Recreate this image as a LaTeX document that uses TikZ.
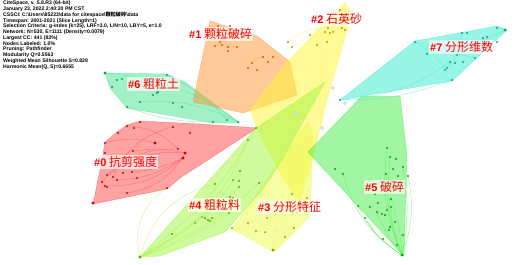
\documentclass[tikz,border=0pt]{standalone}
\usepackage{fontspec}
\usepackage{tikz}
\newfontfamily\hdrfont{Liberation Sans}
\newfontfamily\cjk{Noto Sans CJK SC}

\definecolor{cl0}{RGB}{255,70,70}
\definecolor{cl1}{RGB}{255,150,50}
\definecolor{cl2}{RGB}{255,245,50}
\definecolor{cl3}{RGB}{235,250,70}
\definecolor{cl4}{RGB}{160,245,60}
\definecolor{cl5}{RGB}{70,235,70}
\definecolor{cl6}{RGB}{70,225,140}
\definecolor{cl7}{RGB}{50,235,205}
\definecolor{dk0}{RGB}{200,0,0}
\definecolor{dk1}{RGB}{205,95,0}
\definecolor{dk2}{RGB}{175,155,0}
\definecolor{dk3}{RGB}{130,170,0}
\definecolor{dk4}{RGB}{70,175,0}
\definecolor{dk5}{RGB}{0,165,0}
\definecolor{dk6}{RGB}{0,165,80}
\definecolor{dk7}{RGB}{0,165,140}

\begin{document}
\begin{tikzpicture}[
    x = 1pt, y = -1pt,
    %
    hull/.style = {fill = #1, fill opacity = 0.5,
      draw = #1, draw opacity = 0.6, line width = 0.4pt},
    dot/.style = {circle, fill = #1, inner sep = 0pt,
      minimum size = 2.2pt},
    bigdot/.style = {dot = #1, minimum size = 3.4pt},
    edge/.style = {draw = #1, draw opacity = 0.55, line width = 0.45pt},
    greynode/.style = {circle, draw = gray!50, fill = white,
      inner sep = 0pt, minimum size = 3pt},
    %
    clabel/.style = {fill = white, fill opacity = 0.65, text opacity = 1,
      text = red, inner sep = 1pt, font = \fontsize{12}{12}\cjk},
    ]

    \useasboundingbox (0, 0) rectangle (515, 265);

    % cluster hulls
    \filldraw [hull = cl6] (105, 73) -- (167, 74) -- (185, 82) -- (240, 123)
    -- (213, 123) -- (127, 108) -- (110, 88) -- cycle;
    \filldraw [hull = cl0] (140, 121) -- (200, 124) -- (257, 128) -- (180, 178)
    -- (167, 189) -- (93, 204) -- (102, 160) -- (105, 142) -- (117, 132)
    -- (127, 125) -- cycle;
    \filldraw [hull = cl1] (210, 21) -- (257, 36) -- (290, 62) -- (297, 95)
    -- (243, 113) -- (193, 102) -- cycle;
    \filldraw [hull = cl2] (345, 3) -- (352, 14) -- (327, 100) -- (312, 160)
    -- (300, 200) -- (290, 190) -- (262, 140) -- (250, 110) -- (287, 62)
    -- cycle;
    \filldraw [hull = cl3] (232, 229) -- (308, 122) -- (313, 137) -- (310, 216)
    -- (297, 230) -- (274, 252) -- cycle;
    \filldraw [hull = cl4] (140, 257) -- (256, 128) -- (325, 82) -- (282, 160)
    -- (262, 190) -- (225, 232) -- (160, 256) -- cycle;
    \filldraw [hull = cl5] (362, 96) -- (400, 96) -- (407, 155) -- (404, 256)
    -- (308, 152) -- cycle;
    \filldraw [hull = cl7] (340, 100) -- (415, 41) -- (497, 26) -- (507, 30)
    -- (452, 81) -- cycle;

    % grey nodes
    \foreach \x/\y [count = \i] in {333/88, 345/103, 295/113, 322/128}
    \node [greynode] (g\i) at (\x, \y) {};

    % cluster #6
    \foreach \x/\y [count = \i] in {105/73, 117/80, 122/79, 112/87, 167/75,
      170/82, 157/93, 153/95, 158/92, 140/102, 173/103, 182/107, 127/107,
      213/122, 227/120, 238/122}
    \node [dot = dk6] (m\i) at (\x, \y) {};
    \node [bigdot = dk6] at (m1) {};
    \draw [edge = cl6] (m1) to [bend left = 15] (m16);
    \draw [edge = cl6] (m5) to [bend left = 10] (m15);
    \draw [edge = cl6] (m13) to [bend right = 10] (m14);
    \draw [edge = cl6] (m10) to [bend left = 15] (m16);

    % cluster #0
    \foreach \x/\y [count = \i] in {140/122, 127/126, 134/128, 118/133,
      173/127, 190/133, 105/143, 155/143, 133/151, 178/149, 185/153, 183/158,
      105/153, 107/175, 113/177, 117/180, 132/172, 123/173, 102/182, 105/186,
      107/187, 127/193, 137/178, 167/188, 93/203}
    \node [dot = dk0] (r\i) at (\x, \y) {};
    \foreach \i in {8, 11, 12, 25}
    \node [bigdot = dk0] at (r\i) {};
    \foreach \a/\b/\c in {14/11/20, 16/12/-15, 19/10/25, 9/11/10, 17/12/-10,
      7/8/15, 2/10/20, 20/12/-20, 15/5/25, 22/11/-25}
    \draw [edge = cl0] (r\a) to [bend left = \c] (r\b);

    % cluster #1
    \foreach \x/\y [count = \i] in {218/26, 230/26, 223/35, 220/42, 215/46,
      222/45, 228/47, 228/51, 237/47, 263/57, 273/57, 268/62, 252/63,
      248/68, 257/70}
    \node [dot = dk1] (o\i) at (\x, \y) {};
    \draw [edge = cl1] (o13) to [bend left = 20] (o10);
    \draw [edge = cl1] (o5) to [bend left = 15] (o9);

    % cluster #2
    \foreach \x/\y [count = \i] in {310/35, 288/42, 292/47, 317/45, 325/32,
      328/28, 333/32, 327/42, 330/33, 337/23, 342/28, 345/30, 340/10}
    \node [dot = dk2] (y\i) at (\x, \y) {};
    \foreach \a/\b/\c in {2/6/20, 3/9/15, 4/11/10, 1/10/15}
    \draw [edge = cl2] (y\a) to [bend left = \c] (y\b);
    \draw [edge = cl2] (y8) to [bend right = 10] (g4);

    % cluster #7
    \foreach \x/\y [count = \i] in {415/42, 427/54, 462/33, 467/33, 483/38,
      487/37, 497/28, 505/30, 497/42, 475/58, 457/55, 450/62, 455/63, 463/62,
      445/70, 447/68, 452/80, 340/100}
    \node [dot = dk7] (c\i) at (\x, \y) {};
    \node [bigdot = dk7] at (c8) {};
    \foreach \a/\b/\c in {1/8/-20, 1/15/15, 18/17/-10, 18/12/-15, 2/10/10,
      3/16/20}
    \draw [edge = cl7] (c\a) to [bend left = \c] (c\b);

    % cluster #5
    \foreach \x/\y [count = \i] in {387/148, 390/157, 396/159, 403/167,
      393/169, 408/176, 386/174, 398/176, 392/181, 335/169, 343/174, 375/194,
      358/206, 370/207, 378/203, 391/199, 391/207, 377/212, 382/214, 385/215,
      387/210, 365/218, 395/222, 390/227, 389/230, 403/235, 383/239, 397/245,
      402/255}
    \node [dot = dk5] (v\i) at (\x, \y) {};
    \node [bigdot = dk5] at (v29) {};
    \foreach \a/\c in {1/15, 2/12, 4/-10, 6/-15, 7/10, 11/20, 13/15, 18/8,
      22/12, 16/-8}
    \draw [edge = cl5] (v\a) to [bend right = \c] (v29);

    % cluster #4
    \foreach \x/\y [count = \i] in {240/171, 233/180, 239/181, 259/183,
      215/184, 239/187, 230/197, 233/198, 229/213, 202/217, 205/218, 208/220,
      212/218, 210/221, 195/223, 172/234, 140/257, 248/140, 256/128}
    \node [dot = dk4] (l\i) at (\x, \y) {};
    \node [bigdot = dk4] at (l17) {};
    \foreach \a/\c in {1/-15, 4/-10, 18/-20, 19/-12, 9/-8, 6/-5}
    \draw [edge = cl4] (l17) to [bend left = \c] (l\a);
    \draw [edge = cl4] (l17) to [bend left = 35] (r24);
    \draw [edge = cl4] (l17) to [bend left = 30] (l5);

    % cluster #3
    \foreach \x/\y [count = \i] in {232/228, 248/223, 256/231, 267/218,
      265/232, 273/250, 285/237, 294/228, 293/213, 297/213, 307/198, 292/194}
    \node [dot = dk3] (s\i) at (\x, \y) {};
    \node [bigdot = dk3] at (s6) {};
    \foreach \a/\b/\c in {1/10/-15, 2/11/-10, 6/12/15, 4/9/-10, 3/8/-10}
    \draw [edge = cl3] (s\a) to [bend left = \c] (s\b);

    % cluster labels
    \node [clabel, anchor = west] (lab0) at (93, 162)
    {{\hdrfont\bfseries\fontsize{11}{11}\selectfont\#0} 抗剪强度};
    \node [clabel, anchor = west] (lab1) at (188, 34)
    {{\hdrfont\bfseries\fontsize{11}{11}\selectfont\#1} 颗粒破碎};
    \node [clabel, anchor = west] (lab2) at (310, 19)
    {{\hdrfont\bfseries\fontsize{11}{11}\selectfont\#2} 石英砂};
    \node [clabel, anchor = west] (lab3) at (257, 207)
    {{\hdrfont\bfseries\fontsize{11}{11}\selectfont\#3} 分形特征};
    \node [clabel, anchor = west] (lab4) at (188, 205)
    {{\hdrfont\bfseries\fontsize{11}{11}\selectfont\#4} 粗粒料};
    \node [clabel, anchor = west] (lab5) at (364, 187)
    {{\hdrfont\bfseries\fontsize{11}{11}\selectfont\#5} 破碎};
    \node [clabel, anchor = west] (lab6) at (127, 84)
    {{\hdrfont\bfseries\fontsize{11}{11}\selectfont\#6} 粗粒土};
    \node [clabel, anchor = west] (lab7) at (429, 47)
    {{\hdrfont\bfseries\fontsize{11}{11}\selectfont\#7} 分形维数};

    % header
    \node [anchor = north west, align = left, inner sep = 0pt,
      font = \hdrfont\bfseries\fontsize{5.15}{5.75}\selectfont] (hdr) at (3, 1)
    {CiteSpace, v. 5.8.R3 (64-bit)\\
      January 23, 2022 2:40:20 PM CST\\
      CSSCI: C:\textbackslash Users\textbackslash 85223\textbackslash data
      for citespace\textbackslash{\cjk 颗粒破碎}\textbackslash data\\
      Timespan: 2001-2021 (Slice Length=1)\\
      Selection Criteria: g-index (k=25), LRF=3.0, L/N=10, LBY=5, e=1.0\\
      Network: N=530, E=1111 (Density=0.0079)\\
      Largest CC: 441 (83\%)\\
      Nodes Labeled: 1.0\%\\
      Pruning: Pathfinder\\
      Modularity Q=0.5563\\
      Weighted Mean Silhouette S=0.828\\
      Harmonic Mean(Q, S)=0.6655};

  \end{tikzpicture}
\end{document}
